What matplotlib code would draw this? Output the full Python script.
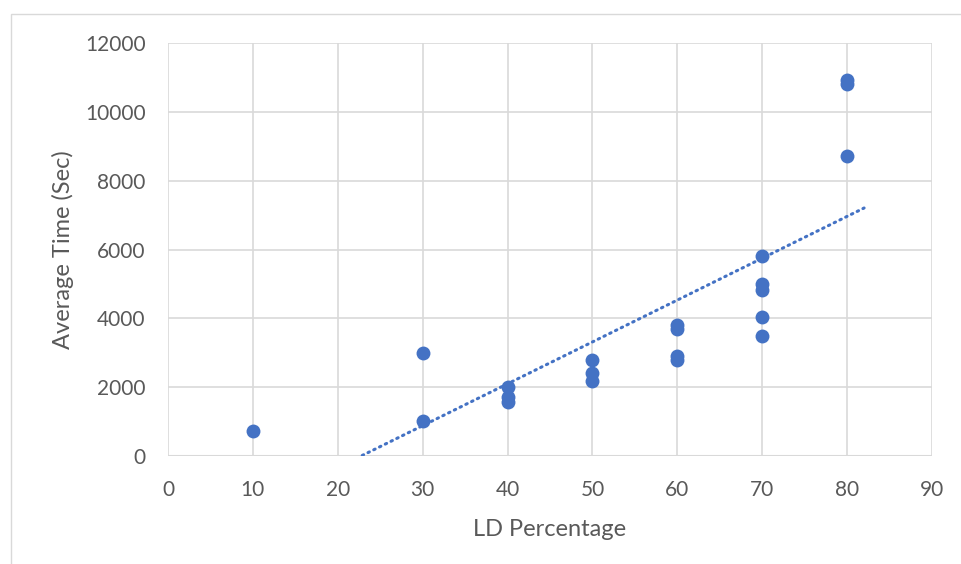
import numpy as np
import matplotlib.pyplot as plt
from matplotlib.patches import Rectangle

# data
ld_pct = [10, 30, 30, 40, 40, 40, 50, 50, 50, 60, 60, 60, 60,
          70, 70, 70, 70, 70, 80, 80, 80]
avg_time = [720, 3000, 1030, 2000, 1700, 1560, 2800, 2420, 2180,
            3800, 3700, 2900, 2780, 5800, 5000, 4820, 4030, 3500,
            10930, 10800, 8720]
x_ticks = list(range(0, 91, 10))
y_ticks = list(range(0, 12001, 2000))

blue = "#4472C4"
grey_text = "#595959"
grid_col = "#D9D9D9"

plt.rcParams['font.family'] = ['Lato', 'DejaVu Sans']

W, H = 961, 564
fig = plt.figure(figsize=(W / 100, H / 100), dpi=100)
ax = fig.add_axes([168 / W, (H - 456) / H, (932 - 168) / W, (456 - 43) / H])

# outer chart border (only left/top visible in the crop)
fig.add_artist(Rectangle((11 / W, -0.1), 1.2, (H - 14) / H + 0.1,
                         transform=fig.transFigure, fill=False,
                         edgecolor=grid_col, linewidth=1))

ax.scatter(ld_pct, avg_time, s=100, color=blue, zorder=3, linewidths=0)

# linear trendline, forecast forward by 2
k, b = np.polyfit(ld_pct, avg_time, 1)
xs = np.array([min(ld_pct), max(ld_pct) + 2])
ax.plot(xs, k * xs + b, color=blue, linewidth=2.2,
        linestyle=(0, (0.5, 1.6)), dash_capstyle='round', zorder=2)

ax.set_xlim(0, 90)
ax.set_ylim(0, 12000)
ax.set_xticks(x_ticks)
ax.set_yticks(y_ticks)
ax.grid(True, color=grid_col, linewidth=1.2)
ax.set_axisbelow(True)
for s in ax.spines.values():
    s.set_visible(False)
ax.axhline(0, color=grid_col, linewidth=1.5, zorder=1)
ax.tick_params(length=0, labelsize=15, colors=grey_text)
ax.tick_params(axis='x', pad=17)
ax.tick_params(axis='y', pad=16)

ax.set_xlabel("LD Percentage", fontsize=17, color=grey_text, labelpad=14)
ax.set_ylabel("Average Time (Sec)", fontsize=17, color=grey_text, labelpad=8)

fig.savefig("out.png", dpi=100)
